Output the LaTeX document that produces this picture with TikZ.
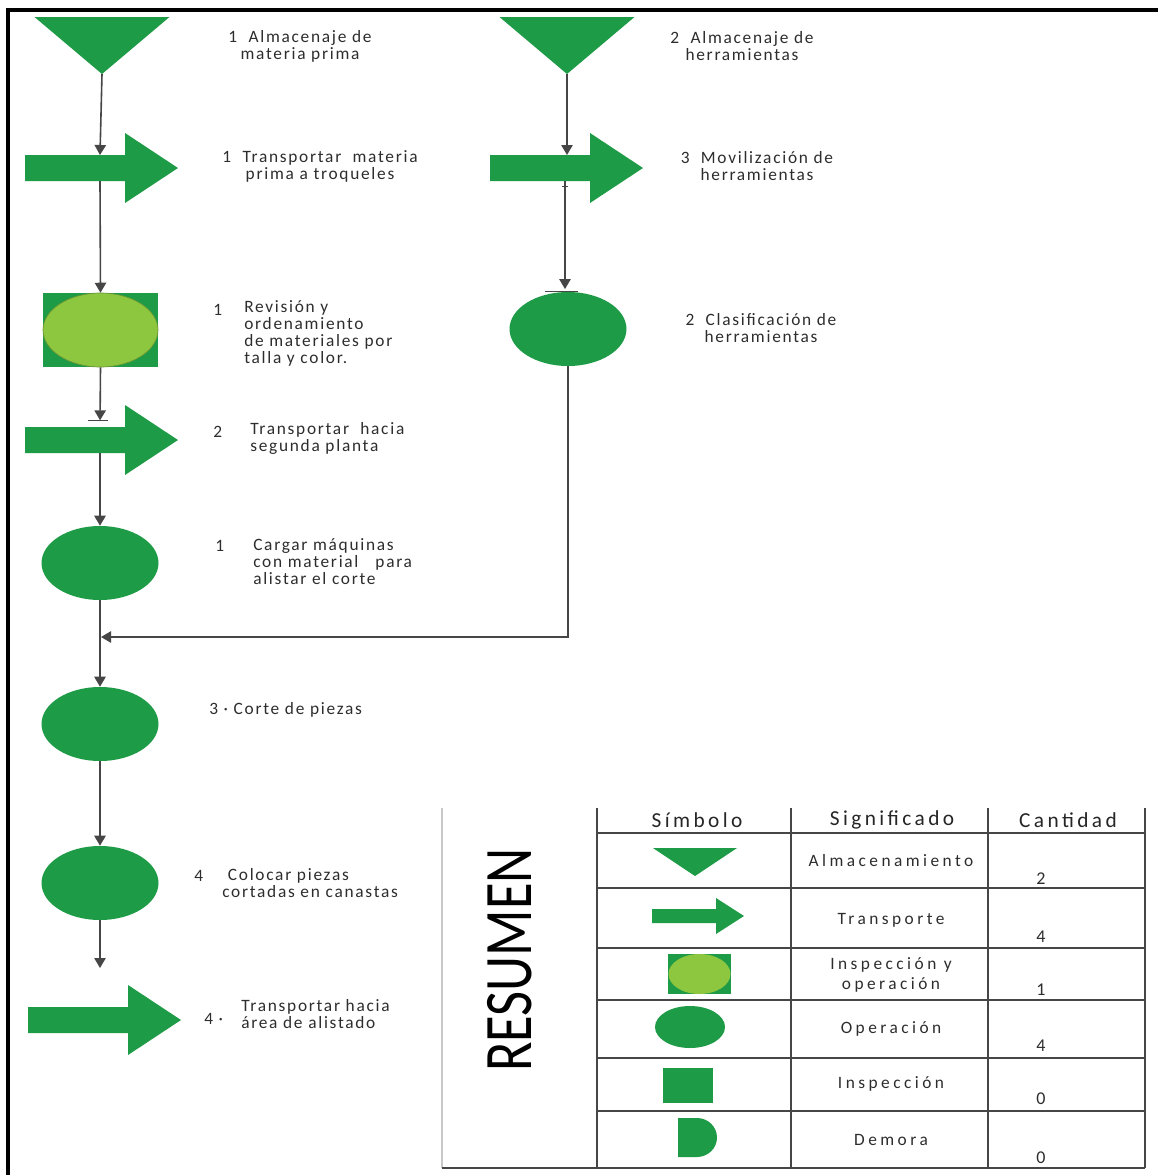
\documentclass[tikz,border=0pt]{standalone}
\usepackage{fontspec}
\setmainfont{Carlito}
\newfontfamily\flowfont[LetterSpace=10]{Carlito}
\newfontfamily\tabfont[LetterSpace=20]{Carlito}
\newfontfamily\headfont[LetterSpace=16]{Carlito}
\usetikzlibrary{arrows.meta,shapes.geometric,calc}

\definecolor{opgreen}{RGB}{30,155,70}
\definecolor{lightgreen}{RGB}{141,198,63}
\definecolor{ringgreen}{RGB}{105,150,50}
\definecolor{linegray}{RGB}{70,70,70}
\definecolor{txtgray}{RGB}{45,45,45}
\definecolor{framegray}{RGB}{200,200,200}

\tikzset{
  % process symbols
  storage/.pic={\fill[opgreen] (-67.5,0) -- (67.5,0) -- (0,57) -- cycle;
                \coordinate (-apex) at (0,57);},
  transport/.pic={\fill[opgreen] (0,-13) -- (100,-13) -- (100,-35) -- (153,0)
                   -- (100,35) -- (100,13) -- (0,13) -- cycle;
                  \coordinate (-top) at (75,-13);
                  \coordinate (-bot) at (75,13);},
  opnode/.style={ellipse, fill=opgreen, inner sep=0pt,
                 minimum width=87.75pt, minimum height=55.5pt},
  inspbox/.style={rectangle, fill=opgreen, inner sep=0pt,
                  minimum width=86.25pt, minimum height=55.5pt},
  inspdisc/.style={ellipse, fill=lightgreen, draw=ringgreen, line width=0.5pt,
                   inner sep=0pt, minimum width=86.25pt, minimum height=55.5pt},
  conn/.style={draw=linegray, line width=1.2pt,
               -{Triangle[length=7.5pt,width=8.5pt]}},
  tickbar/.style={draw=linegray, line width=0.7pt},
  lbl/.style={text=txtgray, inner sep=0pt, align=center,
              font=\flowfont\fontsize{13}{12.75}\selectfont},
  lbll/.style={lbl, align=left, anchor=west},
  tabline/.style={draw=linegray, line width=1pt},
  headtxt/.style={text=black!85, inner sep=0pt,
                  font=\headfont\fontsize{16}{18}\selectfont},
  rowtxt/.style={text=txtgray, inner sep=0pt, align=center,
                 font=\tabfont\fontsize{13}{15}\selectfont},
  numtxt/.style={text=txtgray, inner sep=0pt,
                 font=\tabfont\fontsize{13.5}{15}\selectfont},
}

\begin{document}
\begin{tikzpicture}[x=0.75pt,y=-0.75pt]
\useasboundingbox (0,0) rectangle (1158,1175);
\fill[white] (0,0) rectangle (1158,1175);

% page frame (top and left edges)
\draw[line width=3pt] (8,1175) -- (8,9.5) -- (1158,9.5);

% ---------- left column ----------
\pic (t1) at (102,17) {storage};
\pic (a1) at (25,168) {transport};
\node[inspbox] (insp) at (100.5,330) {};
\node[inspdisc] (inspc) at (100.5,330) {};
\pic (a2) at (25,440) {transport};
\node[opnode] (c1) at (100,563) {};
\node[opnode] (c3) at (100,724) {};
\node[opnode] (c4) at (100,883) {};
\pic (a4) at (28,1020) {transport};

% ---------- right column ----------
\pic (t2) at (567,17) {storage};
\pic (a3) at (490,168) {transport};
\node[opnode] (c2) at (568,329) {};

% ---------- connectors ----------
\coordinate (merge) at (101,637);
\coordinate (a4in) at (100,968);
\draw[conn] (t1-apex) -- (a1-top);
\draw[conn] (a1-bot) -- (insp.north);
\draw[conn, shorten >=5pt] (insp.south) -- (a2-top);
\draw[tickbar] ($(a2-top)+(-12,-7)$) -- ($(a2-top)+(8,-7)$);
\draw[conn] (a2-bot) -- (c1.north);
\draw[conn] (c1.south) -- (c3.north);
\draw[conn] (c3.south) -- (c4.north);
\draw[conn] (c4.south) -- (a4in);
\draw[conn] (t2-apex) -- (t2-apex |- a3-top);
\draw[tickbar] ($(a3-bot)+(-3,5)$) -- ($(a3-bot)+(3,5)$);
\draw[conn, shorten >=2pt] (a3-bot) -- (a3-bot |- c2.north);
\draw[tickbar] ($(c2.north)+(-23,0)$) -- ($(c2.north)+(10,0)$);
\draw[conn] (c2.south) |- (merge);

% ---------- step labels ----------
\node[lbl] (l1) at (300,46) {1\ \ Almacenaje de\\materia prima};
\node[lbl] (l2) at (742,46) {2\ \ Almacenaje de\\herramientas};
\node[lbl] (l3) at (320,166) {1\ \ Transportar\ \ materia\\prima a troqueles};
\node[lbl] (l4) at (757,166) {3\ \ Movilización de\\herramientas};
\node[lbl] (l5) at (761,328) {2\ \ Clasificación de\\herramientas};
\node[lbll] (n6) at (213,310) {1};
\node[lbll] (l6) at (244,333) {Revisión y\\ordenamiento\\de materiales por\\talla y color.};
\node[lbll] (n7) at (213,432) {2};
\node[lbll] (l7) at (250,438.5) {Transportar\ \ hacia\\segunda planta};
\node[lbll] (n8) at (215,546) {1};
\node[lbll] (l8) at (253,562) {Cargar máquinas\\con material\ \ \ para\\alistar el corte};
\node[lbll] (l9) at (209,710) {3 · Corte de piezas};
\node[lbll] (n10) at (194,876) {4};
\node[lbll] (l10) at (222,883.5) {\ Colocar piezas\\cortadas en canastas};
\node[lbll] (n11) at (204,1019) {4 ·};
\node[lbll] (l11) at (241,1014) {Transportar hacia\\área de alistado};

% ---------- summary table ----------
\draw[framegray, line width=0.8pt] (442,808) -- (442,1168);
\node[rotate=90, inner sep=0pt, text=black] (resumen) at (510,960)
  {\scalebox{0.8}[1]{\fontsize{51}{51}\selectfont RESUMEN}};

\foreach \cx in {597,791,988,1145} \draw[tabline] (\cx,808) -- (\cx,1168);
\foreach \ry in {833,888,948,1000,1058,1111} \draw[tabline] (597,\ry) -- (1145,\ry);
\draw[tabline] (442,1168) -- (1145,1168);

\node[headtxt] (h1) at (697,820) {Símbolo};
\node[headtxt] (h2) at (892,820) {Significado};
\node[headtxt] (h3) at (1068,820) {Cantidad};

\node[rowtxt] (r1) at (891,861) {Almacenamiento};
\node[rowtxt] (r2) at (891,920) {Transporte};
\node[rowtxt] (r3) at (891,975) {Inspección y\\operación};
\node[rowtxt] (r4) at (891,1029) {Operación};
\node[rowtxt] (r5) at (891,1084) {Inspección};
\node[rowtxt] (r6) at (891,1140) {Demora};

\node[numtxt] (q1) at (1041,879) {2};
\node[numtxt] (q2) at (1041,937) {4};
\node[numtxt] (q3) at (1041,990) {1};
\node[numtxt] (q4) at (1041,1046) {4};
\node[numtxt] (q5) at (1041,1099) {0};
\node[numtxt] (q6) at (1041,1158) {0};

% legend symbols
\fill[opgreen] (653,848) -- (737,848) -- (695,876) -- cycle;
\fill[opgreen] (652,909) -- (716,909) -- (716,898) -- (744,916) -- (716,934)
  -- (716,923) -- (652,923) -- cycle;
\fill[opgreen] (668,954) rectangle (731,994);
\fill[lightgreen] (699.5,974) ellipse [x radius=31, y radius=20];
\fill[opgreen] (690,1027) ellipse [x radius=35, y radius=21];
\fill[opgreen] (663,1068) rectangle (713,1103);
\fill[opgreen] (678,1118) -- (697,1118)
  arc[start angle=-90, end angle=90, x radius=20, y radius=19.5] -- (678,1157) -- cycle;
\end{tikzpicture}
\end{document}
